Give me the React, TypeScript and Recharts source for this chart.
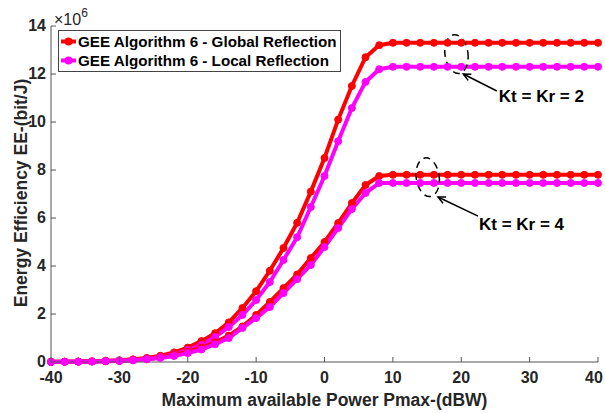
import React from 'react';
import { LineChart, Line, XAxis, YAxis, Legend, ReferenceDot, ReferenceLine, Label } from 'recharts';

const powers = [-40, -38, -36, -34, -32, -30, -28, -26, -24, -22, -20, -18, -16, -14, -12, -10, -8, -6, -4, -2, 0, 2, 4, 6, 8, 10, 12, 14, 16, 18, 20, 22, 24, 26, 28, 30, 32, 34, 36, 38, 40];

const globalK2 = [0.01, 0.015, 0.02, 0.03, 0.05, 0.07, 0.11, 0.17, 0.26, 0.4, 0.6, 0.87, 1.2, 1.65, 2.25, 2.95, 3.8, 4.75, 5.8, 7.1, 8.5, 10.1, 11.5, 12.7, 13.2, 13.3, 13.3, 13.3, 13.3, 13.3, 13.3, 13.3, 13.3, 13.3, 13.3, 13.3, 13.3, 13.3, 13.3, 13.3, 13.3];
const localK2 = [0.005, 0.01, 0.015, 0.025, 0.04, 0.06, 0.09, 0.14, 0.21, 0.32, 0.5, 0.71, 1.04, 1.46, 1.96, 2.58, 3.33, 4.25, 5.2, 6.46, 7.75, 9.2, 10.58, 11.67, 12.2, 12.3, 12.3, 12.3, 12.3, 12.3, 12.3, 12.3, 12.3, 12.3, 12.3, 12.3, 12.3, 12.3, 12.3, 12.3, 12.3];
const globalK4 = [0.005, 0.01, 0.015, 0.02, 0.035, 0.05, 0.08, 0.12, 0.19, 0.29, 0.43, 0.6, 0.82, 1.1, 1.48, 1.96, 2.5, 3.08, 3.65, 4.33, 5.0, 5.79, 6.62, 7.375, 7.75, 7.8, 7.8, 7.8, 7.8, 7.8, 7.8, 7.8, 7.8, 7.8, 7.8, 7.8, 7.8, 7.8, 7.8, 7.8, 7.8];
const localK4 = [0.005, 0.008, 0.012, 0.018, 0.03, 0.045, 0.07, 0.11, 0.17, 0.25, 0.37, 0.52, 0.74, 1.0, 1.42, 1.83, 2.29, 2.87, 3.45, 4.04, 4.79, 5.58, 6.37, 7.04, 7.46, 7.46, 7.46, 7.46, 7.46, 7.46, 7.46, 7.46, 7.46, 7.46, 7.46, 7.46, 7.46, 7.46, 7.46, 7.46, 7.46];

const xTicks = [-40, -30, -20, -10, 0, 10, 20, 30, 40];
const yTicks = [0, 2, 4, 6, 8, 10, 12, 14];

const legendLabels = ['GEE Algorithm 6 - Global Reflection', 'GEE Algorithm 6 - Local Reflection'];
const legendColors = ['#ff0000', '#ff00ff'];

const data = powers.map((p, i) => ({
  x: p,
  g2: globalK2[i],
  l2: localK2[i],
  g4: globalK4[i],
  l4: localK4[i],
}));

const FONT = '"Liberation Sans", Arial, Helvetica, sans-serif';
const AXIS = '#555555';
const TICK_FS = 16;
const TITLE_FS = 17.5;

const XTick = (props: any) => {
  const { x, y, payload } = props;
  const shift = payload.value === 40 ? -4 : 0;
  return (
    <g>
      <line x1={x} y1={y} x2={x} y2={y - 5} stroke={AXIS} strokeWidth={1} />
      <text x={x + shift} y={y + 21} textAnchor="middle" fontFamily={FONT} fontWeight="bold" fontSize={TICK_FS} fill="#262626">
        {payload.value}
      </text>
    </g>
  );
};

const YTick = (props: any) => {
  const { x, y, payload } = props;
  return (
    <g>
      <line x1={x} y1={y} x2={x + 5} y2={y} stroke={AXIS} strokeWidth={1} />
      <text x={x - 5} y={y + 5} textAnchor="end" fontFamily={FONT} fontWeight="bold" fontSize={TICK_FS} fill="#262626">
        {payload.value}
      </text>
      {payload.value === 14 ? (
        <text x={x + 3} y={y - 1} fontFamily={FONT} fontSize={TICK_FS} fill="#262626">
          ×10<tspan dy={-8} fontSize={12}>6</tspan>
        </text>
      ) : null}
    </g>
  );
};

const LegendContent = () => (
  <div
    style={{
      border: '1px solid #444',
      background: '#fff',
      padding: '1px 3px 1px 1px',
      fontFamily: FONT,
      fontWeight: 'bold',
      fontSize: 15.2,
      color: '#000',
      lineHeight: '19px',
      whiteSpace: 'nowrap',
    }}
  >
    {legendLabels.map((l, i) => (
      <div key={l} style={{ display: 'flex', alignItems: 'center' }}>
        <svg width={17} height={19} style={{ marginRight: 1 }}>
          <line x1={1} y1={9.5} x2={16} y2={9.5} stroke={legendColors[i]} strokeWidth={4} />
          <circle cx={8.5} cy={9.5} r={4} fill={legendColors[i]} />
        </svg>
        <span>{l}</span>
      </div>
    ))}
  </div>
);

const Ellipse = (props: any) => {
  const { cx, cy } = props;
  return (
    <ellipse
      cx={cx}
      cy={cy}
      rx={11.5}
      ry={19.5}
      fill="none"
      stroke="#000"
      strokeWidth={1.5}
      strokeDasharray="7 5"
      transform={`rotate(-8 ${cx} ${cy})`}
    />
  );
};

const Arrow = (props: any) => {
  const { x1, y1, x2, y2 } = props;
  const ang = Math.atan2(y2 - y1, x2 - x1);
  const L = 8;
  const w = 0.45;
  const ax = x2 - L * Math.cos(ang - w);
  const ay = y2 - L * Math.sin(ang - w);
  const bx = x2 - L * Math.cos(ang + w);
  const by = y2 - L * Math.sin(ang + w);
  return (
    <g>
      <line x1={x1} y1={y1} x2={x2} y2={y2} stroke="#000" strokeWidth={1.5} />
      <polyline points={`${ax},${ay} ${x2},${y2} ${bx},${by}`} fill="none" stroke="#000" strokeWidth={1.5} />
    </g>
  );
};

const makeText = (t: string) => (props: any) => {
  const { cx, cy } = props;
  return (
    <text x={cx} y={cy} fontFamily={FONT} fontWeight="bold" fontSize={17} fill="#000">
      {t}
    </text>
  );
};

export default function App() {
  return (
    <div style={{ position: 'absolute', left: 0, top: 0, background: '#fff' }}>
      <LineChart width={605} height={413} data={data} margin={{ top: 26, right: 7, left: 0, bottom: 21 }}>
        <XAxis
          type="number"
          dataKey="x"
          domain={[-40, 40]}
          ticks={xTicks}
          interval={0}
          height={30}
          tickSize={0}
          tickMargin={0}
          tickLine={false}
          tick={<XTick />}
          axisLine={{ stroke: AXIS, strokeWidth: 1 }}
        >
          <Label
            content={(p: any) => {
              const vb = p.viewBox;
              return (
                <text x={vb.x + vb.width / 2} y={vb.y + 44} textAnchor="middle" fontFamily={FONT} fontWeight="bold" fontSize={TITLE_FS} fill="#262626">
                  Maximum available Power Pmax-(dBW)
                </text>
              );
            }}
          />
        </XAxis>
        <YAxis
          type="number"
          domain={[0, 14]}
          ticks={yTicks}
          interval={0}
          width={51}
          tickSize={0}
          tickMargin={0}
          tickLine={false}
          tick={<YTick />}
          axisLine={{ stroke: AXIS, strokeWidth: 1 }}
        >
          <Label
            content={(p: any) => {
              const vb = p.viewBox;
              const cx = 27;
              const cy = vb.y + vb.height / 2 - 1;
              return (
                <text x={cx} y={cy} transform={`rotate(-90 ${cx} ${cy})`} textAnchor="middle" fontFamily={FONT} fontWeight="bold" fontSize={TITLE_FS} fill="#262626">
                  Energy Efficiency EE-(bit/J)
                </text>
              );
            }}
          />
        </YAxis>
        <Legend
          layout="vertical"
          align="center"
          verticalAlign="middle"
          content={<LegendContent />}
          wrapperStyle={{ top: 30, left: 58, width: 'auto', height: 'auto' }}
        />
        <Line type="linear" dataKey="g2" stroke="#ff0000" strokeWidth={4} dot={{ r: 3.5, fill: '#ff0000', stroke: '#ff0000', strokeWidth: 1 }} isAnimationActive={false} />
        <Line type="linear" dataKey="l2" stroke="#ff00ff" strokeWidth={4} dot={{ r: 3.5, fill: '#ff00ff', stroke: '#ff00ff', strokeWidth: 1 }} isAnimationActive={false} />
        <Line type="linear" dataKey="g4" stroke="#ff0000" strokeWidth={4} dot={{ r: 3.5, fill: '#ff0000', stroke: '#ff0000', strokeWidth: 1 }} isAnimationActive={false} />
        <Line type="linear" dataKey="l4" stroke="#ff00ff" strokeWidth={4} dot={{ r: 3.5, fill: '#ff00ff', stroke: '#ff00ff', strokeWidth: 1 }} isAnimationActive={false} />
        <ReferenceDot x={19.3} y={12.83} r={0} shape={<Ellipse />} ifOverflow="visible" />
        <ReferenceDot x={15.1} y={7.7} r={0} shape={<Ellipse />} ifOverflow="visible" />
        <ReferenceLine segment={[{ x: 25.2, y: 11.29 }, { x: 20.3, y: 12.0 }]} shape={<Arrow />} ifOverflow="visible" />
        <ReferenceLine segment={[{ x: 22.45, y: 6.08 }, { x: 16.6, y: 6.875 }]} shape={<Arrow />} ifOverflow="visible" />
        <ReferenceDot x={25.5} y={10.83} r={0} shape={makeText('Kt = Kr = 2')} ifOverflow="visible" />
        <ReferenceDot x={22.6} y={5.5} r={0} shape={makeText('Kt = Kr = 4')} ifOverflow="visible" />
      </LineChart>
    </div>
  );
}
